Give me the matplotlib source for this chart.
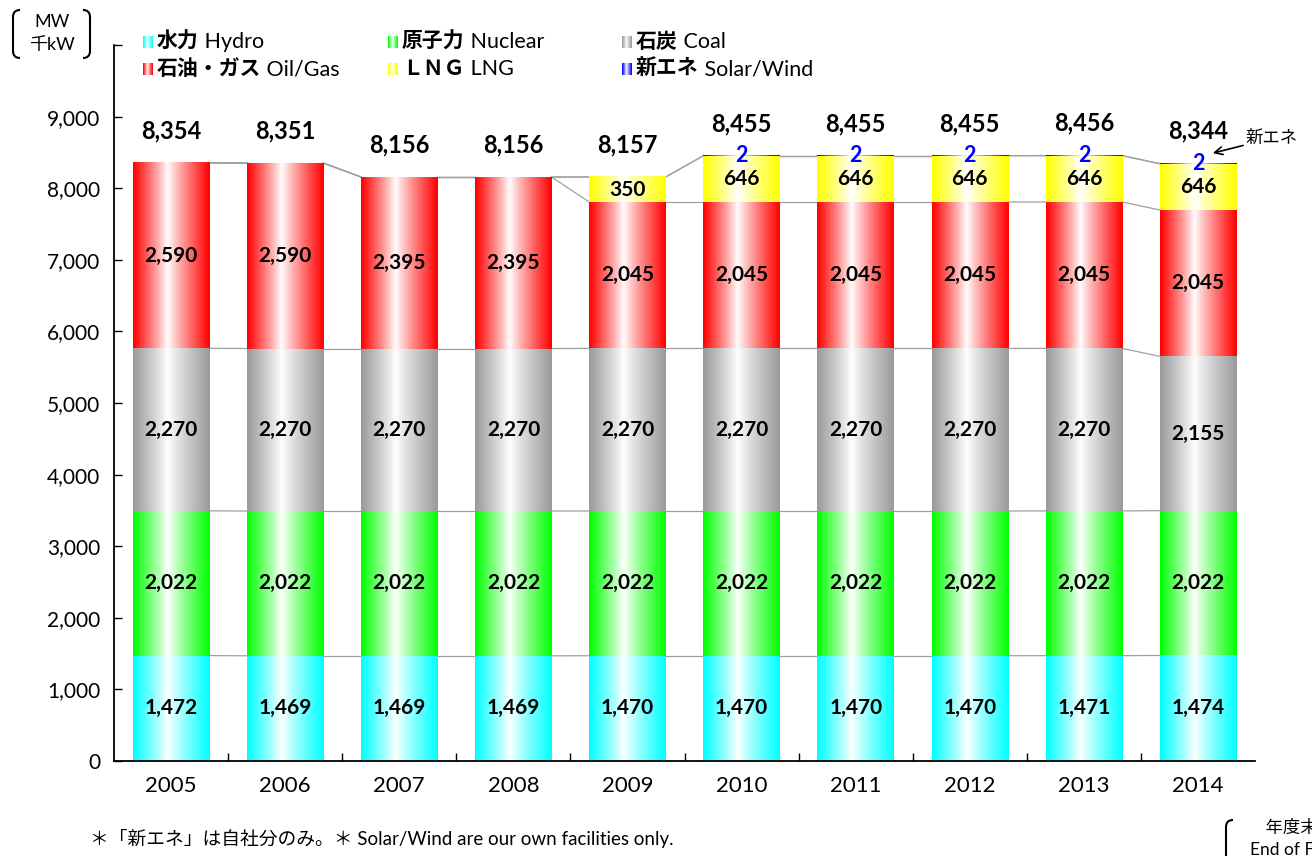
import matplotlib.pyplot as plt
import numpy as np
from matplotlib.path import Path
from matplotlib.patches import PathPatch
from matplotlib.transforms import IdentityTransform
from matplotlib.ticker import FuncFormatter

plt.rcParams['font.family'] = ['Lato', 'Noto Sans CJK JP', 'DejaVu Sans']

# data (MW), year-end capacity
years = ['2005', '2006', '2007', '2008', '2009', '2010', '2011', '2012', '2013', '2014']
hydro = [1472, 1469, 1469, 1469, 1470, 1470, 1470, 1470, 1471, 1474]
nuclear = [2022, 2022, 2022, 2022, 2022, 2022, 2022, 2022, 2022, 2022]
coal = [2270, 2270, 2270, 2270, 2270, 2270, 2270, 2270, 2270, 2155]
oil_gas = [2590, 2590, 2395, 2395, 2045, 2045, 2045, 2045, 2045, 2045]
lng = [0, 0, 0, 0, 350, 646, 646, 646, 646, 646]
solar = [0, 0, 0, 0, 0, 2, 2, 2, 2, 2]
totals = [8354, 8351, 8156, 8156, 8157, 8455, 8455, 8455, 8456, 8344]

series = [hydro, nuclear, coal, oil_gas, lng, solar]
colors = ['#00FFFF', '#00FF00', '#9A9A9A', '#FF0000', '#FFFF00', '#0000FF']
legend_jp = ['水力', '原子力', '石炭', '石油・ガス', 'ＬＮＧ', '新エネ']
legend_en = ['Hydro', 'Nuclear', 'Coal', 'Oil/Gas', 'LNG', 'Solar/Wind']


def gradient(color, n=120):
    rgb = np.array(plt.matplotlib.colors.to_rgb(color))
    t = np.linspace(0, 1, n)
    c = 0.45
    mix = np.where(t < c, (c - t) / c, (t - c) / (1 - c)) ** 0.9
    img = (1 - mix)[:, None] * 1.0 + mix[:, None] * rgb[None, :]
    return img[None, :, :]


fig = plt.figure(figsize=(13.12, 8.56), dpi=100)
ax = fig.add_axes([0.0869, 0.111, 0.8697, 0.8364])

x = np.arange(len(years))
w = 0.67
bottoms = np.zeros(len(years))
levels = []
for vals, col in zip(series, colors):
    vals = np.array(vals, dtype=float)
    img = gradient(col)
    for i in range(len(years)):
        if vals[i] > 0:
            ax.imshow(img, extent=(x[i] - w / 2, x[i] + w / 2, bottoms[i], bottoms[i] + vals[i]),
                      aspect='auto', interpolation='bilinear', zorder=2)
    bottoms = bottoms + vals
    levels.append(bottoms.copy())

# connector lines between bars
for lev in levels:
    for i in range(len(years) - 1):
        ax.plot([x[i] + w / 2, x[i + 1] - w / 2], [lev[i], lev[i + 1]],
                color='#A0A0A0', lw=0.9, zorder=1)

# segment labels
bottoms = np.zeros(len(years))
for vals in series[:5]:
    vals = np.array(vals, dtype=float)
    for i in range(len(years)):
        if vals[i] > 0:
            ax.text(x[i], bottoms[i] + vals[i] / 2, f'{int(vals[i]):,}', ha='center', va='center',
                    fontsize=15, fontweight='bold', color='black', zorder=3)
    bottoms = bottoms + vals

for i in range(len(years)):
    if solar[i] > 0:
        ax.text(x[i], totals[i] - 5, f'{solar[i]}', ha='center', va='center',
                fontsize=15.5, fontweight='bold', color='#0000FF', zorder=3)
    ax.text(x[i], totals[i] + 450, f'{totals[i]:,}', ha='center', va='center',
            fontsize=17, fontweight='bold', color='black', zorder=3)

ax.annotate('新エネ', xy=(9.13, 8490), xytext=(9.42, 8700), textcoords='data',
            fontsize=12.5, va='center', ha='left', annotation_clip=False,
            arrowprops=dict(arrowstyle='->', color='black', lw=1.2, shrinkA=0, shrinkB=0,
                            mutation_scale=14))

ax.set_xlim(-0.5, len(years) - 0.5)
ax.set_ylim(0, 10000)
ax.set_yticks(np.arange(0, 10001, 1000))
ax.yaxis.set_major_formatter(FuncFormatter(lambda v, p: '' if v >= 10000 else f'{int(v):,}'))
ax.set_xticks(x)
ax.set_xticklabels(years)
ax.set_xticks(np.arange(0.5, len(years) - 1, 1), minor=True)
ax.tick_params(axis='x', which='major', length=0, pad=11, labelsize=16)
ax.tick_params(axis='x', which='minor', direction='in', length=6, width=1)
ax.tick_params(axis='y', direction='in', length=6, width=1, pad=10, labelsize=15)
for s in ['top', 'right']:
    ax.spines[s].set_visible(False)
for s in ['left', 'bottom']:
    ax.spines[s].set_linewidth(1.3)

# legend
leg_x = [143, 388, 622]
leg_y = [42, 69]
H = 856.0
Wf = 1312.0
for k in range(6):
    r, c = divmod(k, 3)
    px, py = leg_x[c], leg_y[r]
    iax = fig.add_axes([px / Wf, 1 - (py + 6) / H, 10 / Wf, 12 / H])
    iax.imshow(gradient(colors[k], 20), aspect='auto', interpolation='bilinear')
    iax.axis('off')
    t1 = fig.text((px + 14) / Wf, 1 - py / H, legend_jp[k], fontsize=15, fontweight='bold',
                  va='center', ha='left')
    ax.annotate(' ' + legend_en[k], xy=(1, 0.5), xycoords=t1, va='center', ha='left',
                fontsize=15.5, annotation_clip=False)

# unit label with brackets
fig.text(52 / Wf, 1 - 22 / H, 'MW', fontsize=13, ha='center', va='center')
fig.text(52 / Wf, 1 - 45 / H, '千kW', fontsize=13, ha='center', va='center')


def bracket(x0, top, bot, direction):
    d = 7 * direction
    verts = [(x0 + d, top), (x0, top), (x0, top - 7), (x0, bot + 7), (x0, bot), (x0 + d, bot)]
    codes = [Path.MOVETO, Path.CURVE3, Path.CURVE3, Path.LINETO, Path.CURVE3, Path.CURVE3]
    fig.patches.append(PathPatch(Path(verts, codes), fill=False, lw=1.5, color='black',
                                 transform=IdentityTransform(), figure=fig))


bracket(13, H - 10, H - 58, 1)
bracket(90, H - 10, H - 58, -1)
bracket(1226, H - 820, -10, 1)

fig.text(90 / Wf, 1 - 838 / H, '＊「新エネ」は自社分のみ。＊ Solar/Wind are our own facilities only.',
         fontsize=13.5, ha='left', va='center')
fig.text(1252 / Wf, 1 - 828 / H, '   年度末', fontsize=12.5, ha='left', va='center')
fig.text(1250 / Wf, 1 - 850 / H, 'End of FY', fontsize=12.5, ha='left', va='center')

fig.savefig('out.png', dpi=100)
